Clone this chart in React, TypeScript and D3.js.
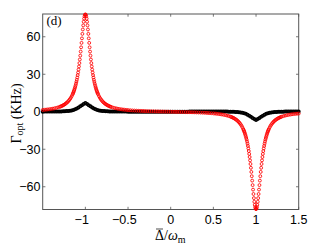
import React from "react";
import * as d3 from "d3";

const W = 327;
const H = 249;

const xDomain: [number, number] = [-1.5, 1.5];
const yDomain: [number, number] = [-78.2, 78.2];
const xTicks = [-1, -0.5, 0, 0.5, 1, 1.5];
const yTicks = [-60, -30, 0, 30, 60];
const panelLabel = "(d)";

// red series (open circles)
const redDelta = [
  -1.5, -1.48, -1.46, -1.44, -1.42, -1.4, -1.38, -1.36, -1.34, -1.32, -1.3,
  -1.29, -1.28, -1.27, -1.26, -1.25, -1.24, -1.23, -1.22, -1.21, -1.2, -1.19, -1.18, -1.17, -1.16,
  -1.15, -1.145, -1.14, -1.135, -1.13, -1.125, -1.12, -1.115, -1.11, -1.105,
  -1.1, -1.095, -1.09, -1.085, -1.08, -1.075, -1.07, -1.065, -1.06, -1.055,
  -1.05, -1.045, -1.04, -1.035, -1.03, -1.025, -1.02, -1.015, -1.01, -1.005,
  -1,
  -0.995, -0.99, -0.985, -0.98, -0.975, -0.97, -0.965, -0.96, -0.955, -0.95,
  -0.945, -0.94, -0.935, -0.93, -0.925, -0.92, -0.915, -0.91, -0.905, -0.9,
  -0.895, -0.89, -0.885, -0.88, -0.875, -0.87, -0.865, -0.86, -0.855, -0.85,
  -0.84, -0.83, -0.82, -0.81, -0.8, -0.79, -0.78, -0.77, -0.76, -0.75, -0.74, -0.73, -0.72, -0.71,
  -0.7, -0.68, -0.66, -0.64, -0.62, -0.6, -0.58, -0.56, -0.54, -0.52, -0.5,
  -0.475, -0.45, -0.425, -0.4, -0.375, -0.35, -0.325, -0.3, -0.275, -0.25, -0.225, -0.2, -0.175, -0.15, -0.125, -0.1, -0.075, -0.05, -0.025,
  0,
  0.025, 0.05, 0.075, 0.1, 0.125, 0.15, 0.175, 0.2, 0.225, 0.25, 0.275, 0.3, 0.325, 0.35, 0.375, 0.4, 0.425, 0.45, 0.475,
  0.5, 0.52, 0.54, 0.56, 0.58, 0.6, 0.62, 0.64, 0.66, 0.68, 0.7,
  0.71, 0.72, 0.73, 0.74, 0.75, 0.76, 0.77, 0.78, 0.79, 0.8, 0.81, 0.82, 0.83, 0.84,
  0.85, 0.855, 0.86, 0.865, 0.87, 0.875, 0.88, 0.885, 0.89, 0.895,
  0.9, 0.905, 0.91, 0.915, 0.92, 0.925, 0.93, 0.935, 0.94, 0.945,
  0.95, 0.955, 0.96, 0.965, 0.97, 0.975, 0.98, 0.985, 0.99, 0.995,
  1,
  1.005, 1.01, 1.015, 1.02, 1.025, 1.03, 1.035, 1.04, 1.045, 1.05,
  1.055, 1.06, 1.065, 1.07, 1.075, 1.08, 1.085, 1.09, 1.095, 1.1,
  1.105, 1.11, 1.115, 1.12, 1.125, 1.13, 1.135, 1.14, 1.145, 1.15,
  1.16, 1.17, 1.18, 1.19, 1.2, 1.21, 1.22, 1.23, 1.24, 1.25, 1.26, 1.27, 1.28, 1.29,
  1.3, 1.32, 1.34, 1.36, 1.38, 1.4, 1.42, 1.44, 1.46, 1.48, 1.5,
];
const redGamma = [
  1.44, 1.56, 1.71, 1.86, 2.04, 2.25, 2.49, 2.77, 3.1, 3.49, 3.95,
  4.21, 4.51, 4.83, 5.19, 5.59, 6.04, 6.53, 7.09, 7.72, 8.43, 9.24, 10.17, 11.23, 12.45,
  13.85, 14.64, 15.5, 16.43, 17.43, 18.52, 19.7, 20.99, 22.38, 23.9,
  25.55, 27.35, 29.3, 31.43, 33.72, 36.21, 38.9, 41.79, 44.87, 48.13,
  51.55, 55.09, 58.7, 62.3, 65.8, 69.08, 72.02, 74.48, 76.34, 77.5,
  77.9,
  77.5, 76.34, 74.48, 72.02, 69.08, 65.8, 62.3, 58.7, 55.09, 51.55,
  48.13, 44.87, 41.79, 38.9, 36.21, 33.72, 31.43, 29.3, 27.35, 25.55,
  23.9, 22.38, 20.99, 19.7, 18.52, 17.43, 16.43, 15.5, 14.64, 13.85,
  12.41, 11.19, 10.13, 9.2, 8.39, 7.68, 7.05, 6.48, 5.99, 5.54, 5.14, 4.78, 4.46, 4.16,
  3.9, 3.42, 3.03, 2.7, 2.41, 2.17, 1.96, 1.77, 1.61, 1.46, 1.33,
  1.2, 1.06, 0.96, 0.86, 0.77, 0.68, 0.61, 0.54, 0.49, 0.43, 0.38, 0.33, 0.29, 0.24, 0.2, 0.16, 0.12, 0.07, 0.04,
  0,
  -0.04, -0.07, -0.12, -0.16, -0.2, -0.24, -0.29, -0.33, -0.38, -0.43, -0.49, -0.54, -0.61, -0.68, -0.77, -0.86, -0.96, -1.06, -1.2,
  -1.33, -1.46, -1.61, -1.77, -1.96, -2.17, -2.41, -2.7, -3.03, -3.42, -3.9,
  -4.16, -4.46, -4.78, -5.14, -5.54, -5.99, -6.48, -7.05, -7.68, -8.39, -9.2, -10.13, -11.19, -12.41,
  -13.85, -14.64, -15.5, -16.43, -17.43, -18.52, -19.7, -20.99, -22.38, -23.9,
  -25.55, -27.35, -29.3, -31.43, -33.72, -36.21, -38.9, -41.79, -44.87, -48.13,
  -51.55, -55.09, -58.7, -62.3, -65.8, -69.08, -72.02, -74.48, -76.34, -77.5,
  -77.9,
  -77.5, -76.34, -74.48, -72.02, -69.08, -65.8, -62.3, -58.7, -55.09, -51.55,
  -48.13, -44.87, -41.79, -38.9, -36.21, -33.72, -31.43, -29.3, -27.35, -25.55,
  -23.9, -22.38, -20.99, -19.7, -18.52, -17.43, -16.43, -15.5, -14.64, -13.85,
  -12.45, -11.23, -10.17, -9.24, -8.43, -7.72, -7.09, -6.53, -6.04, -5.59, -5.19, -4.83, -4.51, -4.21,
  -3.95, -3.49, -3.1, -2.77, -2.49, -2.25, -2.04, -1.86, -1.71, -1.56, -1.44,
];

// black series
const blackDelta = [
  -1.5, -1.48, -1.46, -1.44, -1.42, -1.4, -1.38, -1.36, -1.34, -1.32, -1.3, -1.28, -1.26, -1.24, -1.22,
  -1.2, -1.18, -1.16, -1.14, -1.12, -1.1, -1.08, -1.06, -1.04, -1.02,
  -1,
  -0.98, -0.96, -0.94, -0.92, -0.9, -0.88, -0.86, -0.84, -0.82, -0.8, -0.78, -0.76, -0.74, -0.72, -0.7,
  -0.68, -0.66, -0.64, -0.62, -0.6, -0.58, -0.56, -0.54, -0.52, -0.5,
  -0.48, -0.46, -0.44, -0.42, -0.4, -0.38, -0.36, -0.34, -0.32, -0.3, -0.28, -0.26,
  -0.24, -0.22, -0.2, -0.18, -0.16, -0.14, -0.12, -0.1, -0.08, -0.06, -0.04, -0.02,
  0,
  0.02, 0.04, 0.06, 0.08, 0.1, 0.12, 0.14, 0.16, 0.18, 0.2, 0.22, 0.24,
  0.26, 0.28, 0.3, 0.32, 0.34, 0.36, 0.38, 0.4, 0.42, 0.44, 0.46, 0.48,
  0.5, 0.52, 0.54, 0.56, 0.58, 0.6, 0.62, 0.64, 0.66, 0.68, 0.7, 0.72, 0.74,
  0.76, 0.78, 0.8, 0.82, 0.84, 0.86, 0.88, 0.9, 0.92, 0.94, 0.96, 0.98,
  1,
  1.02, 1.04, 1.06, 1.08, 1.1, 1.12, 1.14, 1.16, 1.18, 1.2, 1.22, 1.24, 1.26,
  1.28, 1.3, 1.32, 1.34, 1.36, 1.38, 1.4, 1.42, 1.44, 1.46, 1.48, 1.5,
];
const blackGamma = [
  0.1, 0.11, 0.12, 0.13, 0.14, 0.15, 0.17, 0.19, 0.21, 0.23, 0.26, 0.3, 0.35, 0.42, 0.52,
  0.65, 0.85, 1.1, 1.5, 2.0, 2.7, 3.5, 4.4, 5.3, 6.2,
  7.0,
  6.2, 5.3, 4.4, 3.5, 2.7, 2.0, 1.5, 1.1, 0.85, 0.65, 0.52, 0.42, 0.35, 0.3, 0.26,
  0.23, 0.21, 0.19, 0.17, 0.15, 0.14, 0.13, 0.12, 0.11, 0.1,
  0.09, 0.09, 0.08, 0.08, 0.07, 0.07, 0.06, 0.06, 0.05, 0.05, 0.04, 0.04,
  0.04, 0.03, 0.03, 0.03, 0.02, 0.02, 0.02, 0.02, 0.01, 0.01, 0.01, 0.0,
  0.0,
  0.01, 0.02, 0.03, 0.04, 0.05, 0.06, 0.07, 0.08, 0.09, 0.1, 0.11, 0.12,
  0.13, 0.14, 0.15, 0.16, 0.17, 0.18, 0.19, 0.2, 0.21, 0.22, 0.22, 0.23,
  0.23, 0.23, 0.22, 0.22, 0.21, 0.2, 0.18, 0.16, 0.13, 0.1, 0.06, 0.02, -0.04,
  -0.11, -0.21, -0.34, -0.54, -0.79, -1.18, -1.68, -2.38, -3.18, -4.08, -4.98, -5.88,
  -6.68,
  -5.88, -4.98, -4.08, -3.18, -2.38, -1.68, -1.18, -0.79, -0.54, -0.34, -0.21, -0.11, -0.04,
  0.02, 0.06, 0.09, 0.11, 0.13, 0.15, 0.17, 0.19, 0.21, 0.23, 0.24, 0.25,
];

const SANS = "'Liberation Sans', Arial, Helvetica, sans-serif";
const SERIF = "'Liberation Serif', 'DejaVu Serif', 'Times New Roman', serif";
const AXIS = "#555555";

function digitWidth(s: string, fs: number) {
  let w = 0;
  for (const c of s) w += c === "." ? 0.278 : 0.556;
  return w * fs;
}

export default function App() {
  const left = 42.7;
  const right = 298.7;
  const top = 14;
  const bottom = 209.5;
  const x = d3.scaleLinear().domain(xDomain).range([left, right]);
  const y = d3.scaleLinear().domain(yDomain).range([bottom, top]);
  const tickLen = 2.7;
  const fs = 12.5;

  const n1 = Math.min(blackDelta.length, blackGamma.length);
  const n2 = Math.min(redDelta.length, redGamma.length);
  const black = d3.range(n1).map((i) => [blackDelta[i], blackGamma[i]]);
  const red = d3.range(n2).map((i) => [redDelta[i], redGamma[i]]);

  return (
    <svg
      width={W}
      height={H}
      style={{ position: "absolute", left: 0, top: 0, background: "#fff" }}
    >
      <rect x={0} y={0} width={W} height={H} fill="#fff" />
      {/* ticks */}
      {xTicks.map((t) => (
        <g key={"xt" + t} stroke={AXIS} strokeWidth={0.8}>
          <line x1={x(t)} x2={x(t)} y1={bottom} y2={bottom - tickLen} />
          <line x1={x(t)} x2={x(t)} y1={top} y2={top + tickLen} />
        </g>
      ))}
      {yTicks.map((t) => (
        <g key={"yt" + t} stroke={AXIS} strokeWidth={0.8}>
          <line x1={left} x2={left + tickLen} y1={y(t)} y2={y(t)} />
          <line x1={right} x2={right - tickLen} y1={y(t)} y2={y(t)} />
        </g>
      ))}
      <rect
        x={left}
        y={top}
        width={right - left}
        height={bottom - top}
        fill="none"
        stroke={AXIS}
        strokeWidth={1}
      />
      {/* series */}
      <g fill="none" stroke="#000" strokeWidth={1.6}>
        {black.map((p, i) => (
          <circle key={"b" + i} cx={x(p[0])} cy={y(p[1])} r={1.2} />
        ))}
      </g>
      <g fill="none" stroke="#ff0000" strokeWidth={0.85}>
        {red.map((p, i) => (
          <circle key={"r" + i} cx={x(p[0])} cy={y(p[1])} r={1.45} />
        ))}
      </g>
      {/* x tick labels */}
      {xTicks.map((t) => {
        const abs = String(Math.abs(t));
        const w = digitWidth(abs, fs);
        return (
          <g key={"xl" + t} fontFamily={SANS} fontSize={fs} fill="#000">
            <text x={x(t)} y={224.3} textAnchor="middle">
              {abs}
            </text>
            {t < 0 && (
              <text x={x(t) - w / 2} y={224.3} textAnchor="end">
                {"\u2212"}
              </text>
            )}
          </g>
        );
      })}
      {/* y tick labels */}
      {yTicks.map((t) => (
        <text
          key={"yl" + t}
          x={40.5}
          y={y(t)}
          dy="0.36em"
          textAnchor="end"
          fontFamily={SANS}
          fontSize={fs}
          fill="#000"
        >
          {t < 0 ? "\u2212" + Math.abs(t) : String(t)}
        </text>
      ))}
      {/* panel label */}
      <text x={46.5} y={24.5} fontFamily={SERIF} fontSize={13} fill="#000">
        {panelLabel}
      </text>
      {/* y axis label */}
      <text
        transform="translate(20.5,113.5) rotate(-90)"
        textAnchor="middle"
        fontFamily={SERIF}
        fontSize={14}
        fill="#000"
      >
        <tspan>Γ</tspan>
        <tspan fontSize={10} dy={2.5}>
          opt
        </tspan>
        <tspan dy={-2.5}>{" (KHz)"}</tspan>
      </text>
      {/* x axis label */}
      <line x1={156} x2={163} y1={229} y2={229} stroke="#000" strokeWidth={0.7} />
      <text x={155} y={240} fontFamily={SERIF} fontSize={14} fill="#000">
        <tspan>Δ</tspan>
        <tspan>/</tspan>
        <tspan fontStyle="italic">ω</tspan>
        <tspan fontSize={10} dy={2.5}>
          m
        </tspan>
      </text>
    </svg>
  );
}
